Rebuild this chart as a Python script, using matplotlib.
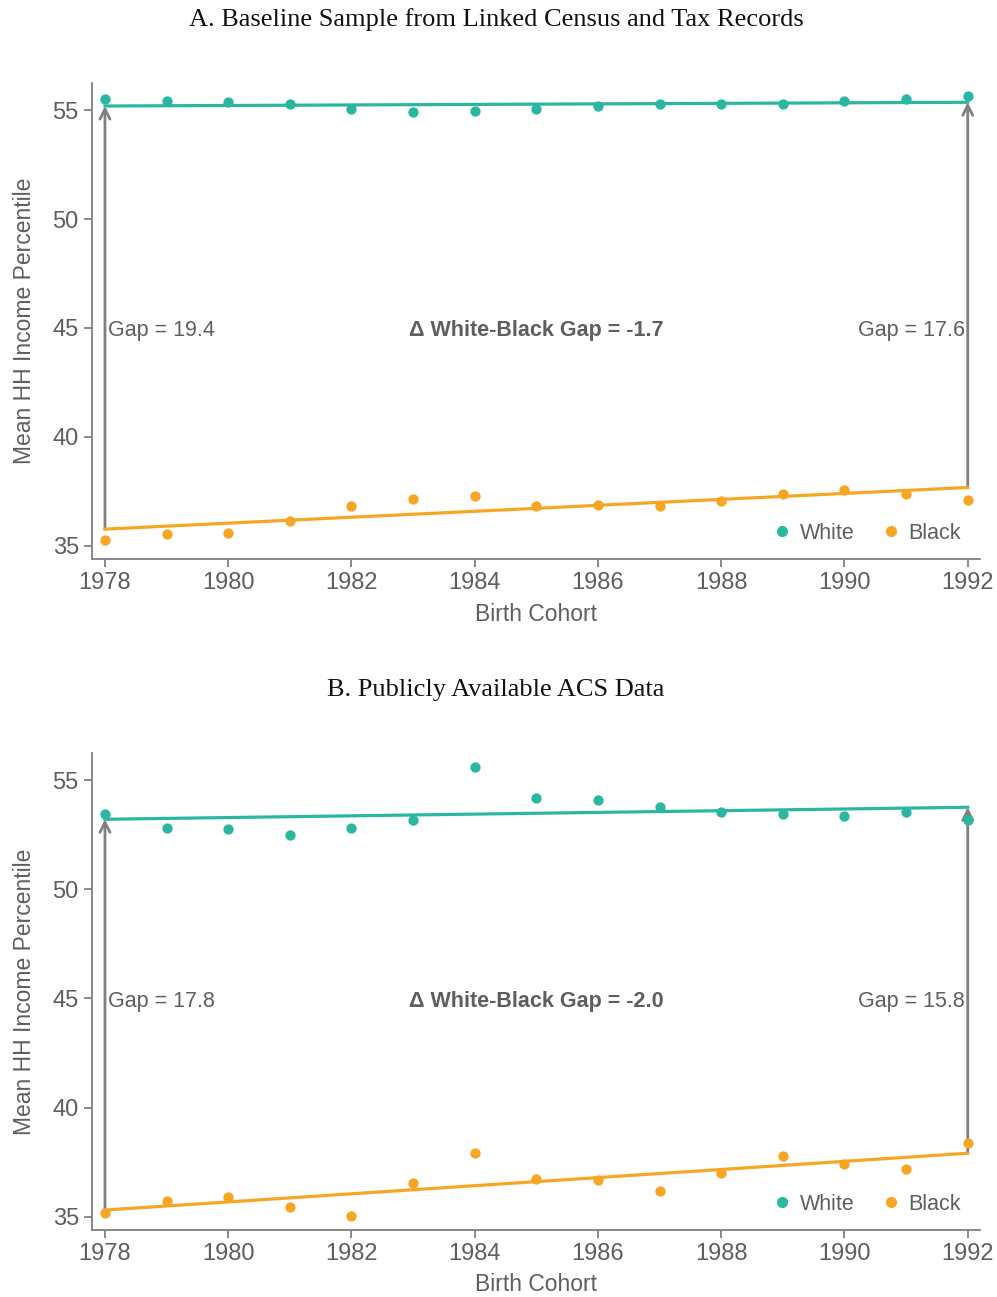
import numpy as np
import matplotlib
matplotlib.use("Agg")
import matplotlib.pyplot as plt
from matplotlib.lines import Line2D

# ---------------- data ----------------
cohorts = list(range(1978, 1993))

white_a = [55.49, 55.43, 55.35, 55.26, 55.05, 54.91, 54.95, 55.05, 55.20, 55.26,
           55.28, 55.29, 55.40, 55.49, 55.64]
black_a = [35.28, 35.54, 35.61, 36.16, 36.83, 37.14, 37.29, 36.85, 36.88, 36.83,
           37.05, 37.37, 37.55, 37.40, 37.12]

white_b = [53.47, 52.83, 52.75, 52.49, 52.81, 53.18, 55.60, 54.17, 54.10, 53.76,
           53.52, 53.47, 53.35, 53.56, 53.17]
black_b = [35.18, 35.73, 35.92, 35.44, 35.06, 36.53, 37.94, 36.72, 36.69, 36.17,
           37.00, 37.79, 37.42, 37.20, 38.39]

titles = ["A. Baseline Sample from Linked Census and Tax Records",
          "B. Publicly Available ACS Data"]
gap_start_labels = ["Gap = 19.4", "Gap = 17.8"]
gap_end_labels = ["Gap = 17.6", "Gap = 15.8"]
delta_labels = ["\u0394 White-Black Gap = -1.7", "\u0394 White-Black Gap = -2.0"]

x_ticks = list(range(1978, 1993, 2))
y_ticks = [35, 40, 45, 50, 55]
series_names = ["White", "Black"]

# ---------------- style ----------------
TEAL = "#2ab7a2"
ORANGE = "#f6a623"
GRAY = "#808080"
TXT = "#5e5e5e"
plt.rcParams["font.family"] = ["Liberation Sans", "DejaVu Sans"]

fig = plt.figure(figsize=(9.97, 12.97), dpi=100)

axes_rects = [[0.0923, 0.569, 0.8907, 0.367],
              [0.0923, 0.0517, 0.8907, 0.3677]]
panels = [(white_a, black_a), (white_b, black_b)]
title_y = [0.985, 0.468]

x = np.array(cohorts)
for i, (rect, (wv, bv)) in enumerate(zip(axes_rects, panels)):
    ax = fig.add_axes(rect)
    w = np.array(wv)
    b = np.array(bv)
    pw = np.polyfit(x, w, 1)
    pb = np.polyfit(x, b, 1)
    fw = np.polyval(pw, x)
    fb = np.polyval(pb, x)

    ax.plot(x, fw, color=TEAL, lw=2.3, zorder=3)
    ax.plot(x, fb, color=ORANGE, lw=2.3, zorder=3)
    ax.scatter(x, w, s=55, color=TEAL, zorder=4, linewidths=0)
    ax.scatter(x, b, s=55, color=ORANGE, zorder=4, linewidths=0)

    # gap arrows
    for xi, lo, hi in [(x[0], fb[0], fw[0]), (x[-1], fb[-1], fw[-1])]:
        ax.annotate("", xy=(xi, hi), xytext=(xi, lo),
                    arrowprops=dict(arrowstyle="->", color=GRAY, lw=2,
                                    shrinkA=0, shrinkB=0,
                                    mutation_scale=18),
                    zorder=2)

    ax.text(x[0] + 0.05, 44.88, gap_start_labels[i], ha="left", va="center",
            fontsize=15.5, color=TXT)
    ax.text(x[-1] - 0.05, 44.88, gap_end_labels[i], ha="right", va="center",
            fontsize=15.5, color=TXT)
    ax.text(1985, 44.88, delta_labels[i], ha="center", va="center",
            fontsize=15.5, color=TXT, fontweight="bold")

    ax.set_xlim(1977.79, 1992.2)
    ax.set_ylim(34.4, 56.24)
    ax.set_xticks(x_ticks)
    ax.set_yticks(y_ticks)
    for s in ["top", "right"]:
        ax.spines[s].set_visible(False)
    for s in ["left", "bottom"]:
        ax.spines[s].set_color(GRAY)
        ax.spines[s].set_linewidth(1.3)
    ax.tick_params(axis="both", colors=GRAY, labelcolor=TXT, labelsize=17,
                   length=6, width=1.3)
    ax.set_xlabel("Birth Cohort", fontsize=16.5, color=TXT, labelpad=6)
    ax.set_ylabel("Mean HH Income Percentile", fontsize=16.5, color=TXT, labelpad=12)

    handles = [Line2D([], [], marker="o", ls="", color=TEAL, markersize=7),
               Line2D([], [], marker="o", ls="", color=ORANGE, markersize=7)]
    ax.legend(handles, series_names, loc="lower right", ncol=2, frameon=False,
              fontsize=15.5, labelcolor=TXT, handletextpad=0.1,
              handlelength=1.4, columnspacing=1.0,
              bbox_to_anchor=(1.0, -0.009))

    fig.text(0.4975, title_y[i], titles[i], ha="center", va="center",
             fontsize=19, family=["Liberation Serif", "DejaVu Serif"],
             color="#111111")

fig.savefig("out.png", dpi=100)
